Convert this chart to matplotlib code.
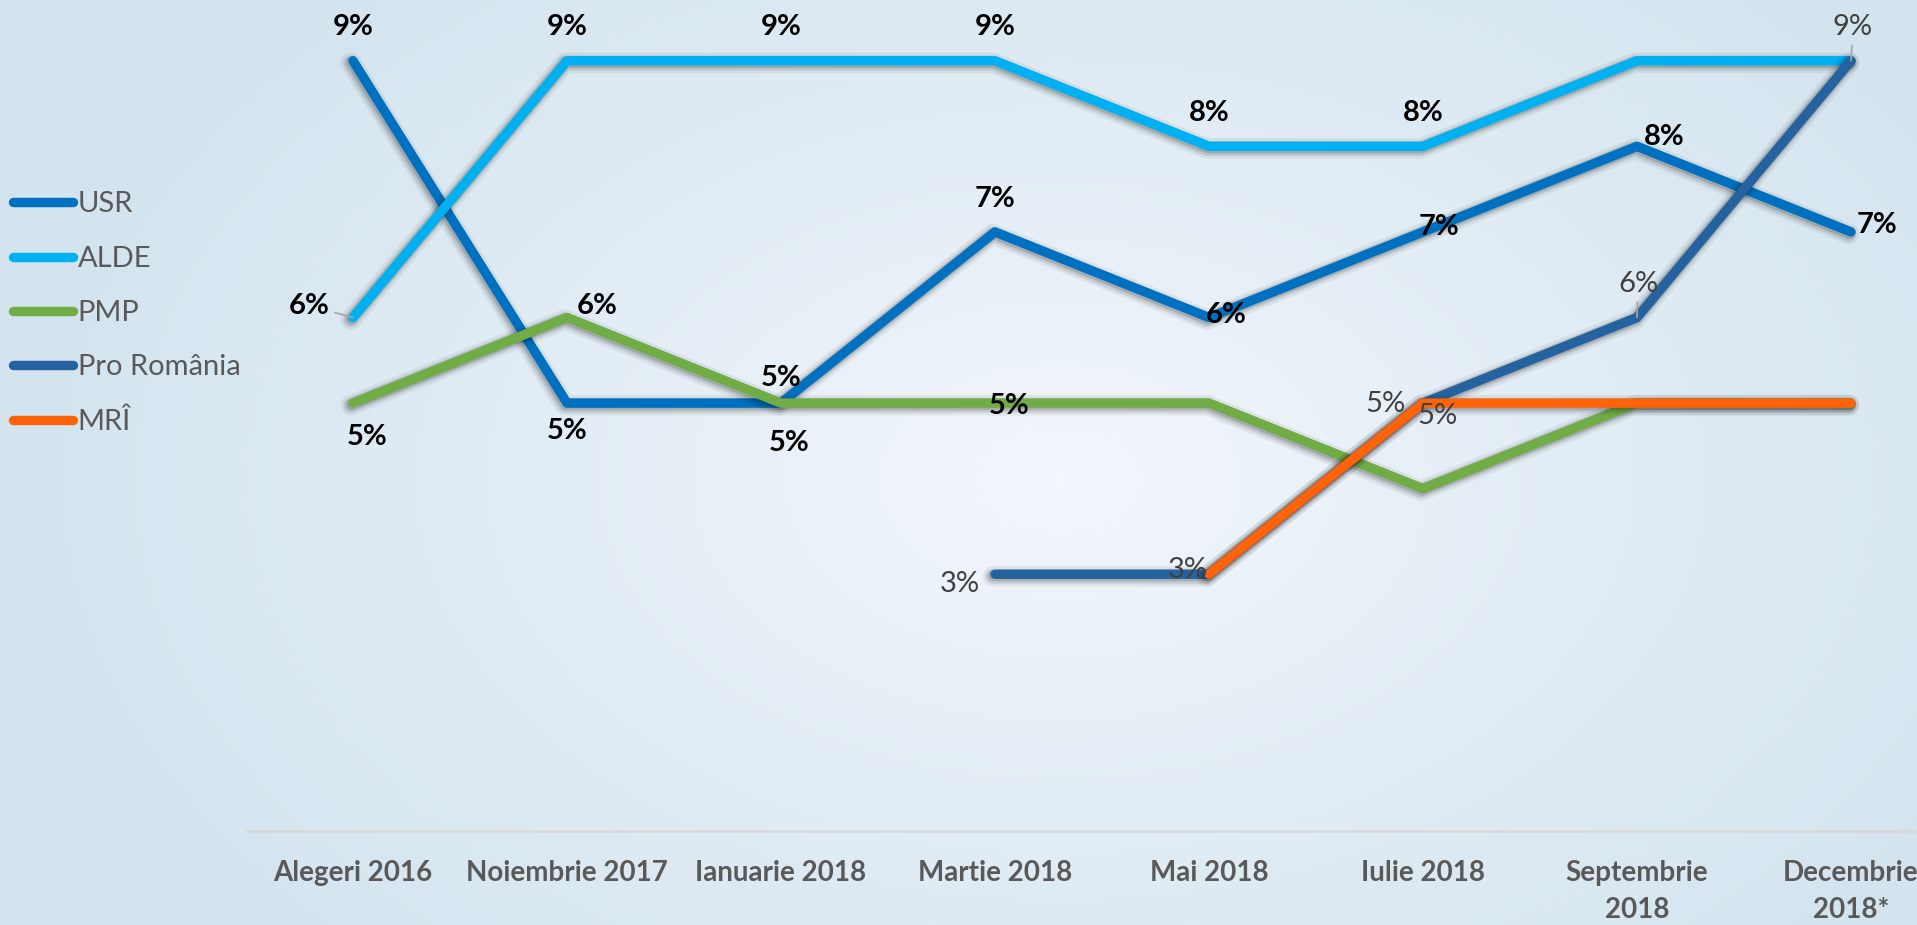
import numpy as np
import matplotlib.pyplot as plt
from matplotlib import patheffects as pe
from matplotlib.lines import Line2D

plt.rcParams['font.family'] = ['Lato', 'DejaVu Sans']

nan = np.nan
categories = ["Alegeri 2016", "Noiembrie 2017", "Ianuarie 2018", "Martie 2018",
              "Mai 2018", "Iulie 2018", "Septembrie\n2018", "Decembrie\n2018*"]
usr = [9, 5, 5, 7, 6, 7, 8, 7]
alde = [6, 9, 9, 9, 8, 8, 9, 9]
pmp = [5, 6, 5, 5, 5, 4, 5, 5]
pro_romania = [nan, nan, nan, 3, 3, 5, 6, 9]
mri = [nan, nan, nan, nan, 3, 5, 5, 5]

names = ["USR", "ALDE", "PMP", "Pro România", "MRÎ"]
series = [usr, alde, pmp, pro_romania, mri]
colors = ["#0070C0", "#00B0F0", "#70AD47", "#2563A0", "#FF6309"]

# label placement: index -> offset in pixels (dx, dy), plus style per series
label_pos = {
    "USR": {0: (0, 37), 1: (0, -25), 2: (0, 28), 3: (0, 36), 4: (17, 6),
            5: (16, 8), 6: (27, 12), 7: (26, 10)},
    "ALDE": {0: (-44, 15), 1: (0, 37), 2: (0, 37), 3: (0, 37), 4: (0, 36), 5: (0, 36)},
    "PMP": {0: (14, -31), 1: (30, 15), 2: (8, -37), 3: (14, 0)},
    "Pro România": {3: (-35, -7), 4: (-21, 7), 5: (-38, 2), 6: (1, 37), 7: (2, 37)},
    "MRÎ": {5: (14, -10)},
}
bold_labels = {"USR", "ALDE", "PMP"}
leaders = {("ALDE", 0), ("Pro România", 6), ("Pro România", 7)}

W, H = 1917, 925
fig = plt.figure(figsize=(W / 100, H / 100), dpi=100)

# radial background
yy, xx = np.mgrid[0:H, 0:W]
r = np.sqrt(((xx - 1060) / 1000.0) ** 2 + ((yy - 480) / 650.0) ** 2)
r = np.clip(r, 0, 1) ** 0.9
c0 = np.array([0.955, 0.968, 0.99])
c1 = np.array([0.835, 0.898, 0.937])
img = c0 + (c1 - c0) * r[..., None]
bg = fig.add_axes([0, 0, 1, 1], zorder=0)
bg.imshow(img, aspect='auto')
bg.axis('off')

ax = fig.add_axes([246 / W, 94 / H, 1712 / W, 831 / H], zorder=1)
ax.patch.set_alpha(0)

lw = 6.8
shadow = [pe.Stroke(offset=(-1.5, -1.5), linewidth=lw + 8, foreground='k', alpha=0.06),
          pe.Stroke(offset=(-1.5, -1.5), linewidth=lw + 4, foreground='k', alpha=0.1),
          pe.Stroke(offset=(-1, -1), linewidth=lw + 1.5, foreground='k', alpha=0.15),
          pe.Normal()]

x = np.arange(len(categories))
for name, vals, c in zip(names, series, colors):
    ax.plot(x, vals, color=c, lw=lw, solid_capstyle='round', solid_joinstyle='round',
            path_effects=shadow, clip_on=False)
    for i, (dx, dy) in label_pos[name].items():
        v = vals[i]
        bold = name in bold_labels
        kw = {}
        if (name, i) in leaders:
            kw['arrowprops'] = dict(arrowstyle='-', color='#a6a6a6', lw=1.2,
                                    shrinkA=2, shrinkB=0)
        ax.annotate(f"{v:.0f}%", (i, v), xytext=(dx, dy - 3), textcoords='offset pixels',
                    ha='center', va='center', fontsize=21,
                    fontweight='bold' if bold else 'normal',
                    color='black' if bold else '#404040',
                    zorder=5, annotation_clip=False, **kw)

ax.set_xlim(-0.5, 7.5)
ax.set_ylim(0, 9.71)
ax.set_yticks([])
ax.set_xticks(x)
ax.set_xticklabels(categories, fontsize=20, fontweight='bold', color='#595959',
                   linespacing=1.5)
ax.tick_params(axis='x', length=0, pad=21)
for s in ['top', 'right', 'left']:
    ax.spines[s].set_visible(False)
ax.spines['bottom'].set_color('#d9d9d9')
ax.spines['bottom'].set_linewidth(1.8)

handles = [Line2D([], [], color=c, lw=lw, solid_capstyle='round') for c in colors]
fig.legend(handles, names, loc='upper left', bbox_to_anchor=(0.007, 0.793),
           frameon=False, fontsize=21, labelcolor='#595959', handlelength=2.05,
           handletextpad=0.15, labelspacing=0.97, borderaxespad=0, borderpad=0)

fig.savefig("out.png", dpi=100)
